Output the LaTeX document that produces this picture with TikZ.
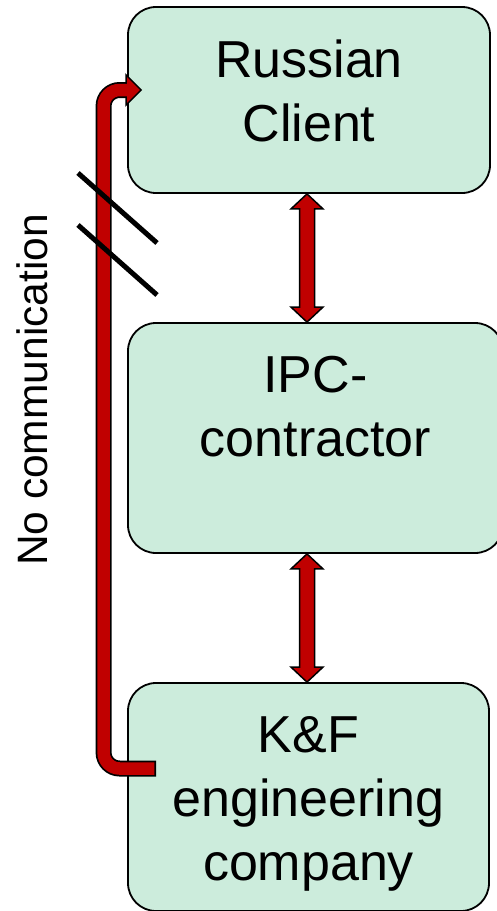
\documentclass[tikz,border=0pt]{standalone}
\usepackage{fontspec}
\setmainfont{Liberation Sans}
\usetikzlibrary{positioning,calc}
\definecolor{mint}{RGB}{204,236,220}
\definecolor{darkred}{RGB}{192,0,0}
\tikzset{
  card/.style={draw, line width=1.8pt, fill=mint, rounded corners=28pt, inner sep=0pt},
  cardtext/.style={align=center, inner sep=0pt, font=\fontsize{52}{64}\selectfont},
  twoway/.style={fill=darkred, draw=black, line width=1.5pt, line join=miter},
  shaftout/.style={line width=16pt, black, rounded corners=16pt},
  shaftin/.style={line width=12.5pt, darkred, rounded corners=16pt},
  slash/.style={line width=5pt}
}
\begin{document}
\begin{tikzpicture}[x=1pt,y=-1pt]
  \useasboundingbox (0,0) rectangle (497,911);

  % the three parties
  \node[card, minimum width=362pt, minimum height=186pt] (russian) at (309,100) {};
  \node[card, minimum width=375pt, minimum height=230pt] (ipc) at (315.5,438) {};
  \node[card, minimum width=361pt, minimum height=228pt] (kf) at (308.5,797) {};

  \node[cardtext, below=34pt of russian.north] (russiantext) {Russian\\Client};
  \node[cardtext, below=34pt of ipc.north] (ipctext) {IPC-\\contractor};
  \node[cardtext, below=34pt of kf.north] (kftext) {K\&F\\engineering\\company};

  % two-way arrows
  \coordinate (axis) at (307,0);
  \foreach \a/\b in {russian/ipc, ipc/kf}
    \filldraw[twoway] let \p1=(axis |- \a.south), \p2=(axis |- \b.north) in
      (\p1) -- ++(16pt,-15pt) -- ++(-8.5pt,0pt) -- (\x1+7.5pt,\y2+15pt) -- ++(8.5pt,0pt)
      -- (\p2) -- ++(-16pt,15pt) -- ++(8.5pt,0pt) -- (\x1-7.5pt,\y1-15pt) -- ++(-8.5pt,0pt) -- cycle;

  % K&F back to the client
  \coordinate (back) at ($(kf.west)+(29,-28.5)$);
  \coordinate (tip) at ($(russian.west)+(14,-10)$);
  \coordinate (bend) at ($(tip)+(-37.5,0)$);
  \draw[shaftout] (back) -- (back -| bend) -- (bend) -- ($(tip)+(-13,0)$);
  \filldraw[twoway] (tip) -- ++(-15,-15) -- ++(0,30) -- cycle;
  \draw[shaftin, shorten <=1.75pt] (back) -- (back -| bend) -- (bend) -- ($(tip)+(-13,0)$);

  \foreach \y in {173,225}
    \draw[slash] (78,\y) -- ++(79,70);

  \node[rotate=90, anchor=base, font=\fontsize{42.5}{50}\selectfont] (nocomm) at (47,390) {No communication};
\end{tikzpicture}
\end{document}
